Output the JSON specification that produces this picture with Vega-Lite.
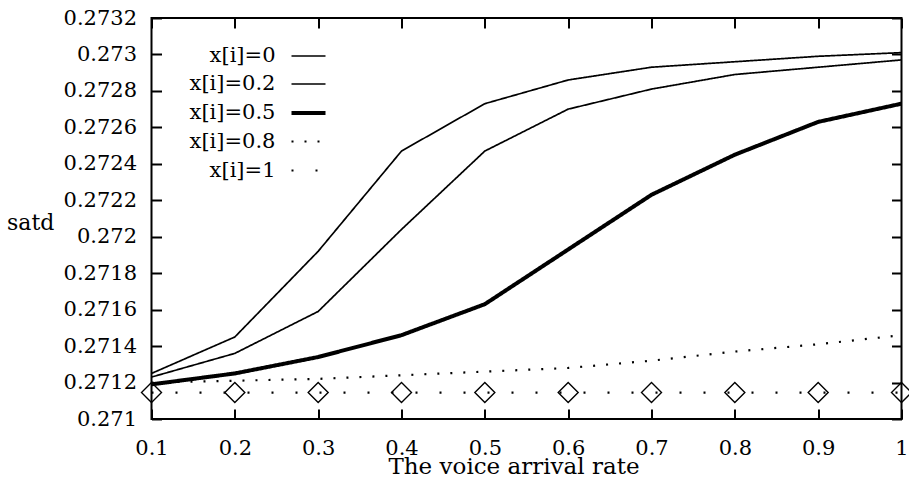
{
  "$schema": "https://vega.github.io/schema/vega-lite/v6.json",
  "width": 750,
  "height": 401,
  "autosize": {"type": "none"},
  "padding": {"left": 151.5, "top": 18, "right": 7.5, "bottom": 74},
  "background": "white",
  "config": {
    "view": {"stroke": "black", "strokeWidth": 2},
    "font": "DejaVu Serif",
    "axis": {
      "labelFont": "DejaVu Serif", "labelFontSize": 21, "labelColor": "black",
      "titleFont": "DejaVu Serif", "titleFontSize": 22, "titleFontWeight": "normal", "titleColor": "black",
      "grid": false, "domain": false, "tickColor": "black", "tickWidth": 2, "tickSize": -10
    },
    "legend": {
      "labelFont": "DejaVu Serif", "labelFontSize": 21, "labelColor": "black"
    }
  },
  "data": {
    "values": [
      {"x": 0.1, "satd": 0.27125, "series": "x[i]=0"},
      {"x": 0.2, "satd": 0.27145, "series": "x[i]=0"},
      {"x": 0.3, "satd": 0.27192, "series": "x[i]=0"},
      {"x": 0.4, "satd": 0.27247, "series": "x[i]=0"},
      {"x": 0.5, "satd": 0.27273, "series": "x[i]=0"},
      {"x": 0.6, "satd": 0.27286, "series": "x[i]=0"},
      {"x": 0.7, "satd": 0.27293, "series": "x[i]=0"},
      {"x": 0.8, "satd": 0.27296, "series": "x[i]=0"},
      {"x": 0.9, "satd": 0.27299, "series": "x[i]=0"},
      {"x": 1.0, "satd": 0.27301, "series": "x[i]=0"},
      {"x": 0.1, "satd": 0.27123, "series": "x[i]=0.2"},
      {"x": 0.2, "satd": 0.27136, "series": "x[i]=0.2"},
      {"x": 0.3, "satd": 0.27159, "series": "x[i]=0.2"},
      {"x": 0.4, "satd": 0.27204, "series": "x[i]=0.2"},
      {"x": 0.5, "satd": 0.27247, "series": "x[i]=0.2"},
      {"x": 0.6, "satd": 0.2727, "series": "x[i]=0.2"},
      {"x": 0.7, "satd": 0.27281, "series": "x[i]=0.2"},
      {"x": 0.8, "satd": 0.27289, "series": "x[i]=0.2"},
      {"x": 0.9, "satd": 0.27293, "series": "x[i]=0.2"},
      {"x": 1.0, "satd": 0.27297, "series": "x[i]=0.2"},
      {"x": 0.1, "satd": 0.27119, "series": "x[i]=0.5"},
      {"x": 0.2, "satd": 0.27125, "series": "x[i]=0.5"},
      {"x": 0.3, "satd": 0.27134, "series": "x[i]=0.5"},
      {"x": 0.4, "satd": 0.27146, "series": "x[i]=0.5"},
      {"x": 0.5, "satd": 0.27163, "series": "x[i]=0.5"},
      {"x": 0.6, "satd": 0.27193, "series": "x[i]=0.5"},
      {"x": 0.7, "satd": 0.27223, "series": "x[i]=0.5"},
      {"x": 0.8, "satd": 0.27245, "series": "x[i]=0.5"},
      {"x": 0.9, "satd": 0.27263, "series": "x[i]=0.5"},
      {"x": 1.0, "satd": 0.27273, "series": "x[i]=0.5"},
      {"x": 0.1, "satd": 0.2712, "series": "x[i]=0.8"},
      {"x": 0.2, "satd": 0.27121, "series": "x[i]=0.8"},
      {"x": 0.3, "satd": 0.27122, "series": "x[i]=0.8"},
      {"x": 0.4, "satd": 0.27124, "series": "x[i]=0.8"},
      {"x": 0.5, "satd": 0.27126, "series": "x[i]=0.8"},
      {"x": 0.6, "satd": 0.27128, "series": "x[i]=0.8"},
      {"x": 0.7, "satd": 0.27132, "series": "x[i]=0.8"},
      {"x": 0.8, "satd": 0.27137, "series": "x[i]=0.8"},
      {"x": 0.9, "satd": 0.27141, "series": "x[i]=0.8"},
      {"x": 1.0, "satd": 0.27146, "series": "x[i]=0.8"},
      {"x": 0.1, "satd": 0.271145, "series": "x[i]=1"},
      {"x": 0.2, "satd": 0.271145, "series": "x[i]=1"},
      {"x": 0.3, "satd": 0.271145, "series": "x[i]=1"},
      {"x": 0.4, "satd": 0.271145, "series": "x[i]=1"},
      {"x": 0.5, "satd": 0.271145, "series": "x[i]=1"},
      {"x": 0.6, "satd": 0.271145, "series": "x[i]=1"},
      {"x": 0.7, "satd": 0.271145, "series": "x[i]=1"},
      {"x": 0.8, "satd": 0.271145, "series": "x[i]=1"},
      {"x": 0.9, "satd": 0.271145, "series": "x[i]=1"},
      {"x": 1.0, "satd": 0.271145, "series": "x[i]=1"}
    ]
  },
  "layer": [
    {
      "mark": {"type": "line", "color": "black", "strokeCap": "butt", "clip": false},
      "encoding": {
        "x": {
          "field": "x", "type": "quantitative",
          "scale": {"domain": [0.1, 1], "nice": false, "zero": false},
          "axis": {
            "orient": "bottom",
            "values": [0.1, 0.2, 0.3, 0.4, 0.5, 0.6, 0.7, 0.8, 0.9, 1],
            "format": ".1~f",
            "title": "The voice arrival rate",
            "titleX": 362, "titleY": 54, "titleBaseline": "alphabetic", "titleAnchor": "start", "titleAlign": "center",
            "titleFontSize": 23,
            "labelPadding": 28, "labelBaseline": "top", "labelFlush": false
          }
        },
        "y": {
          "field": "satd", "type": "quantitative",
          "scale": {"domain": [0.271, 0.2732], "nice": false, "zero": false},
          "axis": {
            "orient": "left",
            "values": [0.271, 0.2712, 0.2714, 0.2716, 0.2718, 0.272, 0.2722, 0.2724, 0.2726, 0.2728, 0.273, 0.2732],
            "format": ".4~f",
            "title": "satd",
            "titleAngle": 0, "titleAlign": "left", "titleBaseline": "middle",
            "titleX": -145, "titleY": 204, "titleAnchor": "start",
            "labelPadding": 25, "labelFlush": false
          }
        },
        "strokeDash": {
          "field": "series", "type": "nominal",
          "scale": {
            "domain": ["x[i]=0", "x[i]=0.2", "x[i]=0.5", "x[i]=0.8", "x[i]=1"],
            "range": [[1, 0], [1, 0], [1, 0], [2, 11], [2, 22]]
          },
          "legend": {
            "title": null, "orient": "none", "legendX": 138, "legendY": 20,
            "symbolType": "stroke", "symbolSize": 1156, "symbolStrokeColor": "black",
            "labelAlign": "right", "labelOffset": -52, "rowPadding": 0
          }
        },
        "strokeWidth": {
          "field": "series", "type": "nominal",
          "scale": {
            "type": "ordinal",
            "domain": ["x[i]=0", "x[i]=0.2", "x[i]=0.5", "x[i]=0.8", "x[i]=1"],
            "range": [1.7, 1.7, 4, 2.2, 2.2]
          },
          "legend": {
            "title": null, "orient": "none", "legendX": 138, "legendY": 20,
            "symbolType": "stroke", "symbolSize": 1156, "symbolStrokeColor": "black",
            "labelAlign": "right", "labelOffset": -52, "rowPadding": 0
          }
        }
      }
    },
    {
      "transform": [{"filter": "datum.series === 'x[i]=1'"}],
      "mark": {"type": "point", "shape": "diamond", "filled": false, "stroke": "black", "strokeWidth": 1.4, "size": 400, "clip": false, "opacity": 1},
      "encoding": {
        "x": {
          "field": "x", "type": "quantitative",
          "axis": {"orient": "top", "values": [0.1, 0.2, 0.3, 0.4, 0.5, 0.6, 0.7, 0.8, 0.9, 1], "labels": false, "title": null}
        },
        "y": {
          "field": "satd", "type": "quantitative",
          "axis": {"orient": "right", "values": [0.271, 0.2712, 0.2714, 0.2716, 0.2718, 0.272, 0.2722, 0.2724, 0.2726, 0.2728, 0.273, 0.2732], "labels": false, "title": null}
        }
      }
    }
  ],
  "resolve": {"axis": {"x": "independent", "y": "independent"}}
}
